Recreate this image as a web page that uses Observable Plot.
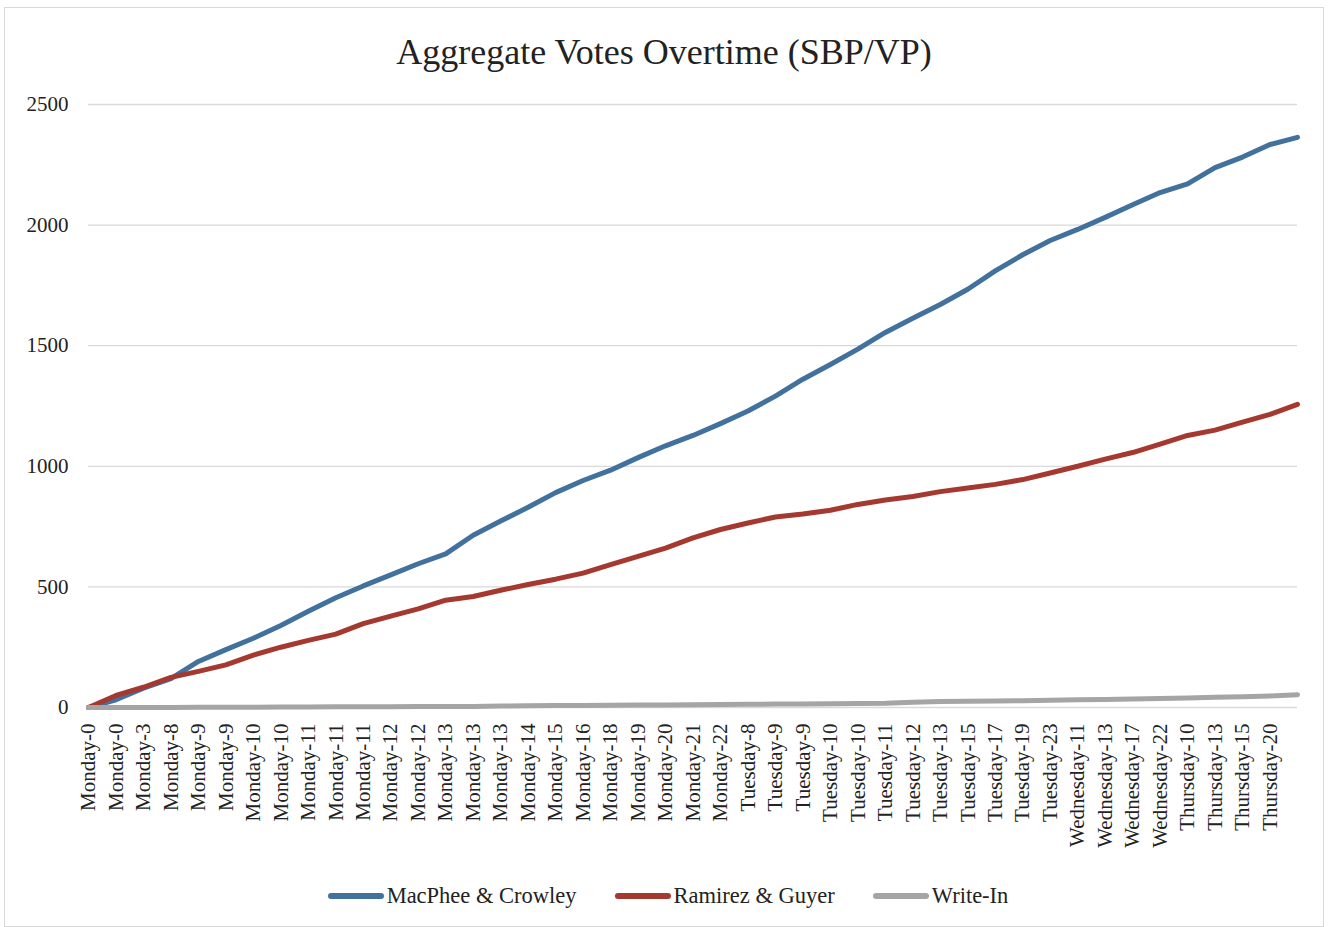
<!DOCTYPE html>
<html>
<head>
<meta charset="utf-8">
<script src="https://cdn.jsdelivr.net/npm/d3@7"></script>
<script src="https://cdn.jsdelivr.net/npm/@observablehq/plot@0.6"></script>
<style>
  html, body { margin: 0; padding: 0; background: #fff; }
  #frame {
    position: absolute; left: 4px; top: 7px; width: 1318px; height: 918px;
    border: 1px solid #d9d9d9; background: #fff; font-family: "Liberation Serif", serif; color: #222;
  }
  #title { height: 77px; box-sizing: border-box; padding-top: 26px; text-align: center;
    font-size: 36px; line-height: 1; }
  #legend { display: flex; justify-content: center; align-items: center; height: 52px;
    font-size: 22.5px; padding-left: 8px; }
  .item { display: flex; align-items: center; margin: 0 19px; }
  .sw { width: 56px; height: 6px; border-radius: 3px; margin-right: 3px; }
</style>
</head>
<body>
<div id="frame">
  <div id="title">Aggregate Votes Overtime (SBP/VP)</div>
  <div id="chart"></div>
  <div id="legend"></div>
</div>
<script>
const xLabels = ["Monday-0","Monday-0","Monday-3","Monday-8","Monday-9","Monday-9","Monday-10","Monday-10","Monday-11","Monday-11","Monday-11","Monday-12","Monday-12","Monday-13","Monday-13","Monday-13","Monday-14","Monday-15","Monday-16","Monday-18","Monday-19","Monday-20","Monday-21","Monday-22","Tuesday-8","Tuesday-9","Tuesday-9","Tuesday-10","Tuesday-10","Tuesday-11","Tuesday-12","Tuesday-13","Tuesday-15","Tuesday-17","Tuesday-19","Tuesday-23","Wednesday-11","Wednesday-13","Wednesday-17","Wednesday-22","Thursday-10","Thursday-13","Thursday-15","Thursday-20"];

const seriesNames = ["MacPhee & Crowley", "Ramirez & Guyer", "Write-In"];
const seriesColors = ["#41719c", "#a5392f", "#a5a5a5"];

const macphee = [0,32,80,120,191,240,287,340,399,455,504,550,596,637,714,773,830,891,941,984,1036,1085,1128,1177,1229,1291,1361,1422,1486,1555,1614,1671,1734,1810,1877,1936,1982,2032,2084,2135,2171,2238,2282,2334,2364];
const ramirez = [0,50,84,125,150,177,217,250,278,304,348,379,409,445,460,486,510,532,557,592,627,661,703,738,765,790,802,818,842,860,875,895,910,925,945,972,1000,1030,1057,1092,1128,1150,1183,1215,1257];
const writeIn = [0,0,0,0,1,1,1,2,2,3,3,3,4,4,4,6,7,8,8,9,10,10,11,12,13,14,15,16,17,18,22,25,26,27,28,30,32,33,35,37,39,42,45,48,53];

const yTicks = [0, 500, 1000, 1500, 2000, 2500];

const allSeries = [macphee, ramirez, writeIn];
const rows = allSeries.flatMap((vals, s) => vals.map((v, i) => ({i, v, s: seriesNames[s]})));

const chart = Plot.plot({
  width: 1318,
  height: 785,
  marginLeft: 83,
  marginRight: 26,
  marginTop: 19,
  marginBottom: 163,
  style: {fontFamily: "Liberation Serif", fontSize: "21px", color: "#222", background: "#fff"},
  x: {domain: [0, macphee.length - 1], label: null},
  y: {domain: [0, 2500], label: null},
  color: {domain: seriesNames, range: seriesColors},
  marks: [
    Plot.ruleY(yTicks, {stroke: "#d9d9d9", strokeWidth: 1.3}),
    Plot.axisY({ticks: yTicks, tickFormat: d => String(d), tickSize: 0, tickPadding: 20, label: null, fontSize: 21}),
    Plot.axisX({ticks: d3.range(xLabels.length), tickFormat: i => xLabels[i], tickSize: 0, tickPadding: 16, tickRotate: -90, label: null, fontSize: 21}),
    ...seriesNames.map(name => Plot.lineY(rows.filter(r => r.s === name), {
      x: "i", y: "v", stroke: "s", strokeWidth: 5, strokeLinecap: "round", strokeLinejoin: "round"
    }))
  ]
});
document.getElementById("chart").appendChild(chart);

const legend = document.getElementById("legend");
seriesNames.forEach((n, k) => {
  const it = document.createElement("div");
  it.className = "item";
  const sw = document.createElement("div");
  sw.className = "sw";
  sw.style.background = seriesColors[k];
  const t = document.createElement("span");
  t.textContent = n;
  it.appendChild(sw); it.appendChild(t);
  legend.appendChild(it);
});
</script>
</body>
</html>
